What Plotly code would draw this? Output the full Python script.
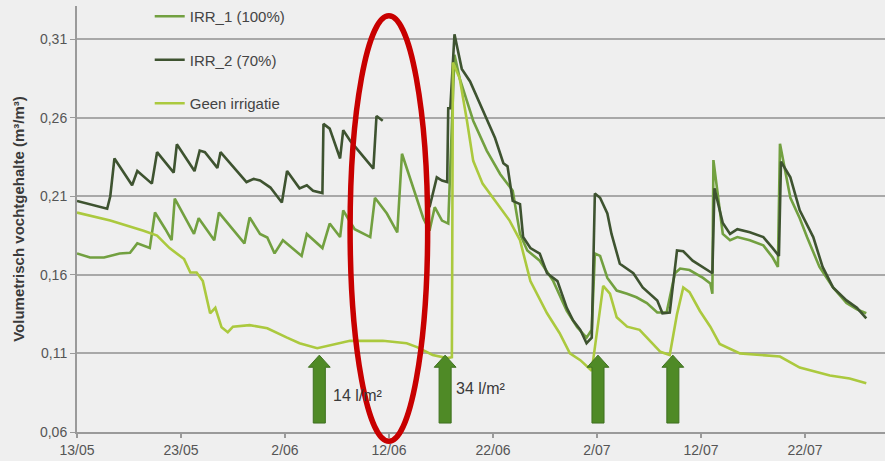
import pandas as pd
import plotly.graph_objects as go

START = pd.Timestamp("2013-05-13")

# --- data: day offsets from 13/05 and volumetric water content ---
irr1_days = [0.0, 1.25, 2.6, 4.1, 5.1, 5.8, 7.0, 7.5, 8.5, 9.1, 9.4, 11.25, 11.7, 13.2, 13.65,
             16.1, 16.6, 17.6, 18.3, 19.0, 19.8, 21.6, 22.1, 23.6, 24.3, 25.3, 25.6, 26.7, 28.2,
             28.65, 29.8, 30.8, 31.25, 32.3, 33.3, 33.9, 34.4, 35.1, 35.7, 36.3, 36.8, 38.1,
             39.4, 40.7, 41.9, 42.6, 43.3, 44.5, 45.8, 47.1, 48.1, 49.0, 49.5, 49.8, 50.3,
             51.0, 51.9, 52.9, 53.8, 54.8, 55.8, 56.7, 57.5, 58.0, 58.9, 60.2, 60.9, 61.1,
             61.2, 62.1, 62.8, 63.5, 64.7, 66.0, 66.9, 67.4, 67.6, 68.6, 69.5, 70.2, 71.4,
             72.7, 74.0, 75.0, 75.9]
irr1_vals = [0.1736, 0.171, 0.171, 0.1736, 0.174, 0.180, 0.177, 0.1996, 0.189, 0.182, 0.2085,
             0.186, 0.196, 0.182, 0.1996, 0.180, 0.1965, 0.186, 0.1837, 0.1736, 0.182, 0.172,
             0.186, 0.177, 0.1926, 0.184, 0.2009, 0.189, 0.184, 0.209, 0.199, 0.187, 0.237,
             0.2155, 0.196, 0.188, 0.203, 0.1945, 0.1926, 0.300, 0.285, 0.258, 0.239, 0.224,
             0.2135, 0.186, 0.1755, 0.169, 0.156, 0.137, 0.1266, 0.120, 0.125, 0.1735, 0.172,
             0.158, 0.150, 0.148, 0.1457, 0.142, 0.136, 0.136, 0.161, 0.164, 0.163, 0.158,
             0.1545, 0.148, 0.233, 0.186, 0.182, 0.184, 0.182, 0.1787, 0.171, 0.165, 0.2434,
             0.209, 0.196, 0.184, 0.165, 0.152, 0.142, 0.138, 0.1355]

irr2_days = [0.0, 2.9, 3.2, 3.6, 5.3, 5.8, 7.2, 7.7, 9.3, 9.6, 11.3, 11.8, 12.3, 13.5, 13.8,
             16.3, 17.0, 17.6, 18.6, 19.7, 20.2, 21.4, 22.1, 22.7, 23.6, 23.7, 24.3, 25.3,
             25.6, 26.3, 28.5, 28.8, 29.4, 31.5, 33.9, 34.6, 35.1, 35.6, 35.7, 35.9, 36.3,
             37.0, 37.8, 38.5, 39.4, 40.2, 41.0, 41.4, 41.9, 42.6, 42.9, 43.6, 44.5, 45.2,
             46.2, 47.1, 47.7, 48.4, 49.0, 49.5, 49.8, 50.3, 51.0, 51.4, 52.2, 53.5, 54.4,
             55.8, 56.3, 57.0, 57.7, 58.3, 59.2, 60.6, 61.1, 61.3, 62.1, 62.8, 63.5, 64.7,
             66.0, 66.9, 67.5, 67.7, 68.6, 69.5, 70.8, 71.7, 72.7, 74.0, 75.0, 75.9]
irr2_vals = [0.207, 0.202, 0.210, 0.234, 0.217, 0.226, 0.218, 0.238, 0.225, 0.243, 0.226,
             0.239, 0.238, 0.228, 0.238, 0.219, 0.221, 0.220, 0.2155, 0.206, 0.226, 0.215,
             0.217, 0.2135, 0.212, 0.256, 0.253, 0.234, 0.252, 0.245, 0.2275, 0.261, 0.258,
             None, 0.203, 0.222, 0.220, 0.219, 0.266, 0.266, 0.313, 0.291, 0.283, 0.2725,
             0.260, 0.247, 0.231, 0.229, 0.207, 0.205, 0.184, 0.177, 0.1735, 0.161, 0.156,
             0.139, 0.131, 0.125, 0.1165, 0.120, 0.2117, 0.209, 0.199, 0.186, 0.167, 0.161,
             0.152, 0.1437, 0.1355, 0.136, 0.1755, 0.175, 0.169, 0.163, 0.161, 0.215, 0.193,
             0.186, 0.189, 0.187, 0.184, 0.177, 0.172, 0.232, 0.222, 0.201, 0.184, 0.165,
             0.152, 0.1437, 0.139, 0.1323]

geen_days = [0.0, 3.2, 6.4, 7.7, 8.9, 10.3, 10.9, 11.5, 12.1, 12.8, 13.3, 13.9, 14.5, 15.0,
             16.6, 18.3, 20.2, 21.4, 23.1, 24.3, 26.25, 29.4, 31.7, 32.7, 34.2, 35.6, 36.05,
             36.15, 36.8, 37.5, 38.1, 39.0, 40.4, 41.6, 42.6, 43.6, 45.2, 46.4, 47.4, 48.4,
             49.5, 50.0, 50.6, 51.25, 51.9, 52.9, 54.1, 55.1, 56.1, 57.0, 57.7, 58.3, 58.9,
             59.9, 60.9, 61.8, 63.75, 65.7, 67.6, 69.5, 72.4, 74.3, 75.9]
geen_vals = [0.1996, 0.1945, 0.188, 0.185, 0.177, 0.170, 0.1615, 0.1615, 0.156, 0.1355,
             0.139, 0.1266, 0.1235, 0.127, 0.128, 0.126, 0.120, 0.1165, 0.1133, 0.115, 0.118,
             0.118, 0.1165, 0.114, 0.109, 0.107, 0.1076, 0.295, 0.285, 0.258, 0.2325, 0.218,
             0.205, 0.1945, 0.182, 0.156, 0.1355, 0.123, 0.110, 0.1057, 0.099, 0.125, 0.153,
             0.148, 0.133, 0.127, 0.125, 0.118, 0.111, 0.109, 0.135, 0.152, 0.149, 0.137,
             0.127, 0.116, 0.110, 0.109, 0.108, 0.101, 0.096, 0.094, 0.091]

arrow_days = [23.3, 35.4, 50.1, 57.3]
arrow_labels = ["14 l/m²", "34 l/m²", "", ""]

tick_days = [0, 10, 20, 30, 40, 50, 60, 70]
tick_text = ["13/05", "23/05", "2/06", "12/06", "22/06", "2/07", "12/07", "22/07"]
y_ticks = [0.06, 0.11, 0.16, 0.21, 0.26, 0.31]
y_text = ["0,06", "0,11", "0,16", "0,21", "0,26", "0,31"]


def to_dt(days):
    return [START + pd.Timedelta(days=float(d)) for d in days]


fig = go.Figure()

fig.add_trace(go.Scatter(x=to_dt(irr1_days), y=irr1_vals, mode="lines", name="IRR_1 (100%)",
                         line=dict(color="#72a040", width=2.6), legendgroup="a"))
fig.add_trace(go.Scatter(x=to_dt(irr2_days), y=irr2_vals, mode="lines", name="IRR_2 (70%)",
                         line=dict(color="#3e5330", width=2.6), connectgaps=False, legendgroup="b"))
fig.add_trace(go.Scatter(x=to_dt(geen_days), y=geen_vals, mode="lines", name="Geen irrigatie",
                         line=dict(color="#abc93e", width=2.6), legendgroup="c"))

# irrigation arrows
tip, base, bottom = 0.1089, 0.1012, 0.0657
sh, hh = 0.58, 1.05
ax, ay = [], []
for d in arrow_days:
    pts = [(d - sh, bottom), (d + sh, bottom), (d + sh, base), (d + hh, base), (d, tip),
           (d - hh, base), (d - sh, base), (d - sh, bottom)]
    ax += [START + pd.Timedelta(days=p[0]) for p in pts] + [None]
    ay += [p[1] for p in pts] + [None]
fig.add_trace(go.Scatter(x=ax, y=ay, mode="lines", fill="toself", fillcolor="#4f8a26",
                         line=dict(color="#3f7020", width=1), showlegend=False, hoverinfo="skip"))

label_y = [0.0835, 0.0879]
for i, (d, lab) in enumerate(zip(arrow_days, arrow_labels)):
    if lab:
        fig.add_annotation(x=START + pd.Timedelta(days=d + (1.1 if i == 0 else 0.9)), y=label_y[i],
                           text=lab, showarrow=False, xanchor="left", yanchor="middle",
                           font=dict(family="Liberation Sans, Arial", size=16, color="#3a3a3a"))

# red ellipse highlight
fig.add_shape(type="circle", xref="paper", yref="paper", x0=0.338, x1=0.434, y0=-0.022, y1=0.977,
              line=dict(color="#c80000", width=5.5), layer="above")

fig.update_layout(
    width=885, height=461,
    margin=dict(l=77, r=0, t=5, b=29),
    paper_bgcolor="#efefef", plot_bgcolor="#efefef",
    font=dict(family="Liberation Sans, Arial", size=12, color="#555555"),
    legend=dict(x=0.090, y=1.015, xanchor="left", yanchor="top", bgcolor="rgba(0,0,0,0)",
                font=dict(size=15, color="#444444"), traceorder="grouped", tracegroupgap=21,
                itemwidth=30),
    showlegend=True,
)
fig.update_xaxes(
    automargin=False,
    range=[START, START + pd.Timedelta(days=77.7)],
    tickvals=to_dt(tick_days), ticktext=tick_text,
    showgrid=False, showline=True, linecolor="#9a9a9a", linewidth=2,
    ticks="outside", ticklen=4, tickcolor="#9a9a9a", tickwidth=1.5,
    tickfont=dict(size=14, color="#555555"), zeroline=False,
)
fig.update_yaxes(
    automargin=False,
    range=[0.06, 0.331], tickvals=y_ticks, ticktext=y_text,
    showgrid=True, gridcolor="#a8a8a8", gridwidth=2,
    showline=True, linecolor="#9a9a9a", linewidth=2,
    ticks="outside", ticklen=5, tickcolor="#9a9a9a",
    tickfont=dict(size=14, color="#555555"), zeroline=False,
    title=dict(text="<b>Volumetrisch vochtgehalte (m³/m³)</b>", font=dict(size=15, color="#3a3a3a"),
               standoff=12),
)

fig.write_html("out.html", config={"displayModeBar": False},
               post_script="document.body.style.margin='0px';document.body.style.background='#efefef';")
